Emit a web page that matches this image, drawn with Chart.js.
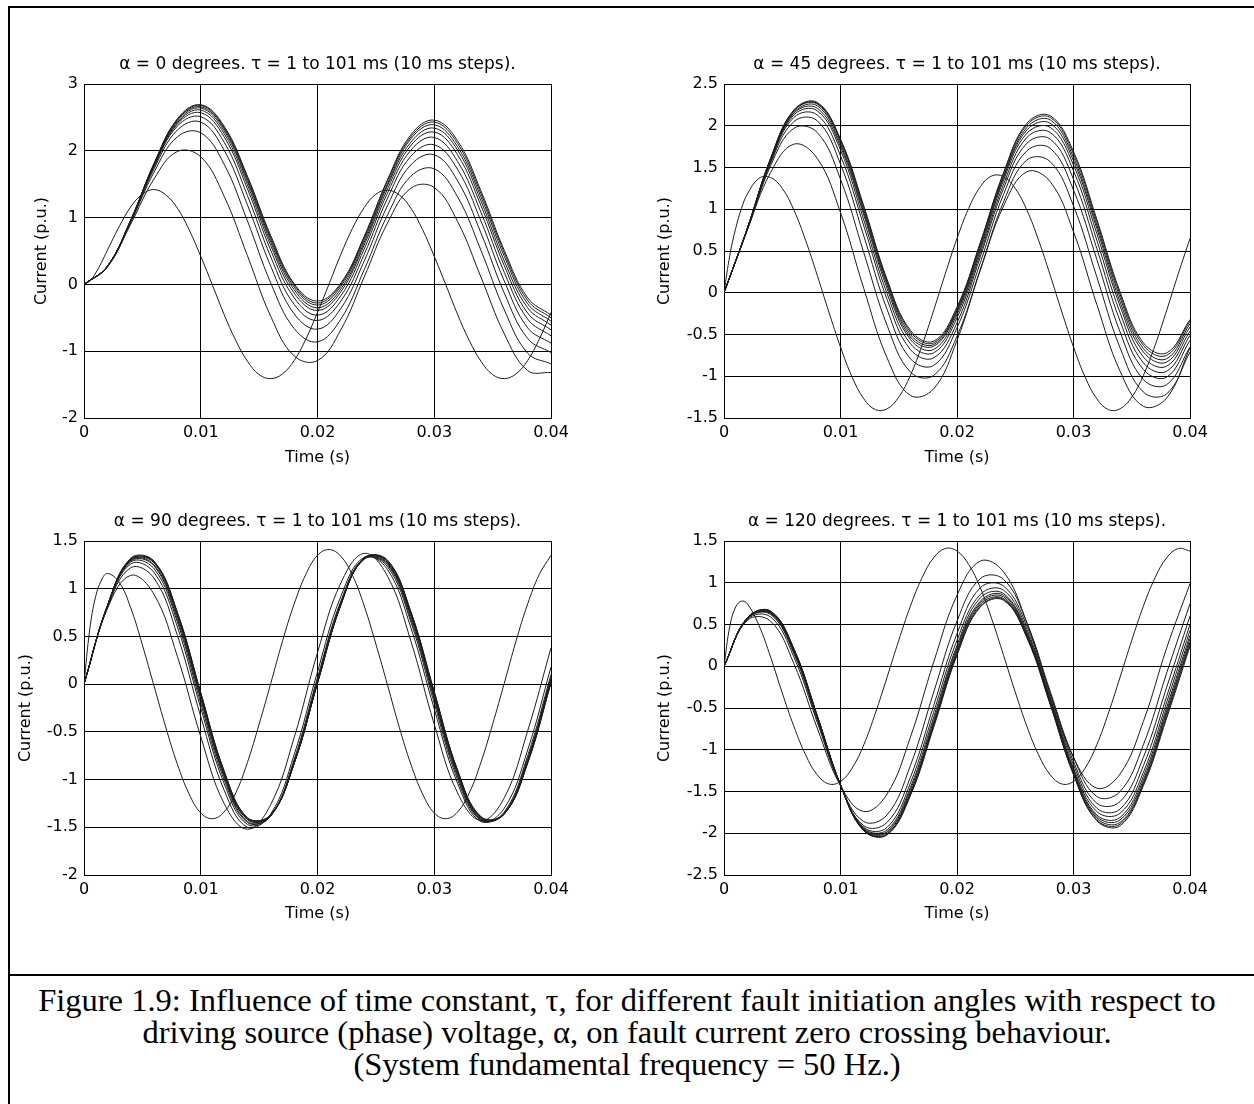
<!DOCTYPE html>
<html>
<head>
<meta charset="utf-8">
<title>Figure 1.9</title>
<script src="https://cdn.jsdelivr.net/npm/chart.js@4.4.1/dist/chart.umd.min.js"></script>
<style>
  html, body { margin: 0; padding: 0; background: #fff; overflow: hidden; }
  #page { position: relative; width: 1254px; height: 1104px; }
  .rule { position: absolute; background: #000; }
  canvas { position: absolute; }
  .caption {
    position: absolute; left: 0; top: 984px; width: 1254px;
    font-family: "Liberation Serif", "Times New Roman", serif;
    font-size: 32.5px; line-height: 32px; text-align: center; color: #000;
    white-space: nowrap;
  }
</style>
</head>
<body>
<div id="page">
  <div class="rule" style="left:8px;top:6px;width:1246px;height:2px"></div>
  <div class="rule" style="left:8px;top:6px;width:2px;height:1098px"></div>
  <div class="rule" style="left:8px;top:974px;width:1246px;height:2px"></div>

  <canvas id="p1" width="569" height="411" style="left:33px;top:56px"></canvas>
  <canvas id="p2" width="602" height="411" style="left:656px;top:56px"></canvas>
  <canvas id="p3" width="601" height="410" style="left:17px;top:513px"></canvas>
  <canvas id="p4" width="602" height="410" style="left:656px;top:513px"></canvas>

  <div class="caption">
    <div>Figure 1.9: Influence of time constant, τ, for different fault initiation angles with respect to</div>
    <div>driving source (phase) voltage, α, on fault current zero crossing behaviour.</div>
    <div>(System fundamental frequency = 50 Hz.)</div>
  </div>
</div>

<script>
// sample times (s): 2 ms steps for the slow curves, finer start for tau = 1 ms
const timeCoarse = [0, 0.002, 0.004, 0.006, 0.008, 0.01, 0.012, 0.014, 0.016, 0.018, 0.02,
  0.022, 0.024, 0.026, 0.028, 0.03, 0.032, 0.034, 0.036, 0.038, 0.04];
const timeTau1 = [0, 0.0005, 0.001, 0.0015, 0.002, 0.003, 0.004, 0.005, 0.006, 0.007, 0.008,
  0.009, 0.01, 0.011, 0.012, 0.013, 0.014, 0.015, 0.016, 0.017, 0.018, 0.019, 0.02, 0.021,
  0.022, 0.023, 0.024, 0.025, 0.026, 0.027, 0.028, 0.029, 0.03, 0.031, 0.032, 0.033, 0.034,
  0.035, 0.036, 0.037, 0.038, 0.039, 0.04];

const xTicks = [0, 0.01, 0.02, 0.03, 0.04];

// alpha = 0 degrees
const a0_t1 = [0, 0.05, 0.17, 0.33, 0.51, 0.86, 1.16, 1.35, 1.42, 1.34, 1.14, 0.82, 0.42, -0.01, -0.45, -0.84, -1.15, -1.35, -1.41, -1.34, -1.14, -0.82, -0.42, 0.01, 0.45, 0.84, 1.15, 1.35, 1.41, 1.34, 1.14, 0.82, 0.42, -0.01, -0.45, -0.84, -1.15, -1.35, -1.41, -1.34, -1.14, -0.82, -0.42];
const a0_t11 = [0, 0.26, 0.90, 1.58, 1.99, 1.91, 1.32, 0.43, -0.48, -1.07, -1.14, -0.68, 0.11, 0.92, 1.44, 1.45, 0.94, 0.11, -0.74, -1.29, -1.32];
const a0_t21 = [0, 0.26, 0.93, 1.68, 2.21, 2.27, 1.80, 0.95, 0.02, -0.66, -0.86, -0.52, 0.22, 1.04, 1.62, 1.73, 1.31, 0.51, -0.38, -1.03, -1.19];
const a0_t31 = [0, 0.27, 0.94, 1.73, 2.31, 2.43, 2.01, 1.19, 0.27, -0.44, -0.67, -0.36, 0.35, 1.18, 1.79, 1.94, 1.55, 0.77, -0.13, -0.81, -1.02];
const a0_t41 = [0, 0.27, 0.95, 1.76, 2.37, 2.51, 2.13, 1.33, 0.41, -0.30, -0.54, -0.25, 0.45, 1.29, 1.92, 2.09, 1.72, 0.95, 0.05, -0.65, -0.88];
const a0_t51 = [0, 0.27, 0.95, 1.77, 2.40, 2.57, 2.21, 1.43, 0.51, -0.20, -0.46, -0.17, 0.53, 1.37, 2.01, 2.20, 1.84, 1.08, 0.18, -0.52, -0.77];
const a0_t61 = [0, 0.27, 0.96, 1.79, 2.42, 2.61, 2.26, 1.49, 0.58, -0.13, -0.39, -0.11, 0.59, 1.43, 2.08, 2.28, 1.94, 1.18, 0.28, -0.43, -0.68];
const a0_t71 = [0, 0.27, 0.96, 1.80, 2.44, 2.64, 2.30, 1.54, 0.63, -0.08, -0.35, -0.07, 0.63, 1.48, 2.13, 2.34, 2.01, 1.25, 0.35, -0.35, -0.61];
const a0_t81 = [0, 0.27, 0.96, 1.80, 2.46, 2.66, 2.33, 1.57, 0.67, -0.04, -0.31, -0.03, 0.67, 1.51, 2.18, 2.39, 2.06, 1.31, 0.42, -0.29, -0.55];
const a0_t91 = [0, 0.27, 0.96, 1.81, 2.47, 2.68, 2.35, 1.60, 0.70, -0.01, -0.28, 0.00, 0.70, 1.55, 2.21, 2.43, 2.11, 1.36, 0.47, -0.24, -0.50];
const a0_t101 = [0, 0.27, 0.96, 1.81, 2.48, 2.69, 2.37, 1.62, 0.73, 0.01, -0.25, 0.02, 0.72, 1.57, 2.24, 2.46, 2.15, 1.40, 0.51, -0.20, -0.46];

// alpha = 45 degrees
const a45_t1 = [0, 0.45, 0.77, 1.01, 1.18, 1.37, 1.38, 1.25, 0.99, 0.63, 0.21, -0.23, -0.65, -1.01, -1.27, -1.40, -1.39, -1.25, -0.99, -0.63, -0.21, 0.23, 0.65, 1.01, 1.27, 1.40, 1.39, 1.25, 0.99, 0.63, 0.21, -0.23, -0.65, -1.01, -1.27, -1.40, -1.39, -1.25, -0.99, -0.63, -0.21, 0.23, 0.65];
const a45_t11 = [0, 0.75, 1.44, 1.78, 1.61, 0.96, 0.05, -0.78, -1.23, -1.15, -0.57, 0.27, 1.04, 1.45, 1.33, 0.73, -0.14, -0.94, -1.36, -1.26, -0.66];
const a45_t21 = [0, 0.75, 1.52, 1.97, 1.92, 1.36, 0.48, -0.39, -0.95, -0.99, -0.52, 0.28, 1.09, 1.59, 1.57, 1.04, 0.19, -0.66, -1.19, -1.21, -0.71];
const a45_t31 = [0, 0.76, 1.55, 2.05, 2.06, 1.54, 0.68, -0.20, -0.79, -0.87, -0.42, 0.36, 1.18, 1.70, 1.73, 1.23, 0.40, -0.47, -1.04, -1.10, -0.65];
const a45_t41 = [0, 0.76, 1.57, 2.10, 2.13, 1.64, 0.80, -0.08, -0.68, -0.78, -0.36, 0.43, 1.25, 1.79, 1.84, 1.36, 0.53, -0.34, -0.92, -1.01, -0.57];
const a45_t51 = [0, 0.77, 1.58, 2.13, 2.18, 1.71, 0.87, -0.01, -0.61, -0.72, -0.30, 0.47, 1.30, 1.86, 1.92, 1.46, 0.63, -0.24, -0.84, -0.94, -0.51];
const a45_t61 = [0, 0.77, 1.59, 2.15, 2.21, 1.75, 0.93, 0.05, -0.56, -0.68, -0.26, 0.51, 1.35, 1.91, 1.98, 1.53, 0.71, -0.16, -0.77, -0.88, -0.46];
const a45_t71 = [0, 0.77, 1.60, 2.16, 2.24, 1.78, 0.96, 0.09, -0.53, -0.64, -0.23, 0.54, 1.38, 1.95, 2.03, 1.58, 0.77, -0.11, -0.71, -0.83, -0.41];
const a45_t81 = [0, 0.77, 1.60, 2.18, 2.26, 1.81, 0.99, 0.12, -0.50, -0.62, -0.21, 0.57, 1.40, 1.98, 2.07, 1.62, 0.81, -0.06, -0.67, -0.79, -0.37];
const a45_t91 = [0, 0.77, 1.61, 2.18, 2.27, 1.83, 1.02, 0.14, -0.47, -0.60, -0.19, 0.59, 1.43, 2.01, 2.10, 1.66, 0.85, -0.02, -0.63, -0.75, -0.34];
const a45_t101 = [0, 0.77, 1.61, 2.19, 2.28, 1.84, 1.04, 0.16, -0.45, -0.58, -0.17, 0.60, 1.44, 2.03, 2.12, 1.69, 0.88, 0.01, -0.60, -0.72, -0.32];

// alpha = 90 degrees
const a90_t1 = [0, 0.58, 0.92, 1.09, 1.16, 1.07, 0.80, 0.41, -0.02, -0.45, -0.84, -1.15, -1.35, -1.41, -1.34, -1.14, -0.82, -0.42, 0.01, 0.45, 0.84, 1.15, 1.35, 1.41, 1.34, 1.14, 0.82, 0.42, -0.01, -0.45, -0.84, -1.15, -1.35, -1.41, -1.34, -1.14, -0.82, -0.42, 0.01, 0.45, 0.84, 1.15, 1.35];
const a90_t11 = [0, 0.79, 1.14, 0.94, 0.29, -0.55, -1.25, -1.52, -1.26, -0.56, 0.33, 1.06, 1.37, 1.13, 0.45, -0.42, -1.14, -1.43, -1.19, -0.49, 0.38];
const a90_t21 = [0, 0.80, 1.22, 1.11, 0.51, -0.34, -1.11, -1.50, -1.36, -0.74, 0.13, 0.92, 1.33, 1.20, 0.59, -0.26, -1.04, -1.44, -1.30, -0.69, 0.18];
const a90_t31 = [0, 0.81, 1.26, 1.17, 0.60, -0.25, -1.04, -1.47, -1.38, -0.79, 0.07, 0.87, 1.32, 1.23, 0.65, -0.20, -1.00, -1.43, -1.34, -0.75, 0.10];
const a90_t41 = [0, 0.81, 1.28, 1.21, 0.65, -0.20, -1.00, -1.45, -1.38, -0.81, 0.04, 0.85, 1.31, 1.25, 0.68, -0.16, -0.97, -1.42, -1.35, -0.78, 0.07];
const a90_t51 = [0, 0.82, 1.29, 1.24, 0.68, -0.16, -0.97, -1.44, -1.38, -0.82, 0.03, 0.84, 1.31, 1.26, 0.71, -0.14, -0.95, -1.42, -1.36, -0.80, 0.05];
const a90_t61 = [0, 0.82, 1.30, 1.25, 0.71, -0.14, -0.95, -1.42, -1.38, -0.83, 0.02, 0.84, 1.32, 1.27, 0.72, -0.12, -0.93, -1.41, -1.36, -0.81, 0.04];
const a90_t71 = [0, 0.82, 1.30, 1.27, 0.72, -0.12, -0.94, -1.42, -1.37, -0.83, 0.02, 0.84, 1.32, 1.28, 0.74, -0.11, -0.92, -1.40, -1.36, -0.82, 0.03];
const a90_t81 = [0, 0.82, 1.31, 1.28, 0.74, -0.10, -0.92, -1.41, -1.37, -0.83, 0.01, 0.83, 1.32, 1.29, 0.75, -0.09, -0.91, -1.40, -1.36, -0.82, 0.02];
const a90_t91 = [0, 0.82, 1.31, 1.28, 0.75, -0.09, -0.91, -1.40, -1.37, -0.83, 0.01, 0.83, 1.32, 1.29, 0.75, -0.08, -0.91, -1.39, -1.36, -0.82, 0.02];
const a90_t101 = [0, 0.82, 1.32, 1.29, 0.75, -0.09, -0.91, -1.40, -1.37, -0.83, 0.01, 0.83, 1.32, 1.30, 0.76, -0.08, -0.90, -1.39, -1.36, -0.83, 0.01];

// alpha = 120 degrees
const a120_t1 = [0, 0.48, 0.71, 0.78, 0.75, 0.49, 0.11, -0.32, -0.72, -1.06, -1.30, -1.41, -1.38, -1.22, -0.94, -0.56, -0.13, 0.31, 0.72, 1.06, 1.30, 1.41, 1.38, 1.22, 0.94, 0.56, 0.13, -0.31, -0.72, -1.06, -1.30, -1.41, -1.38, -1.22, -0.94, -0.56, -0.13, 0.31, 0.72, 1.06, 1.30, 1.41, 1.38];
const a120_t11 = [0, 0.55, 0.54, 0.03, -0.74, -1.43, -1.74, -1.53, -0.85, 0.05, 0.85, 1.26, 1.13, 0.52, -0.33, -1.09, -1.46, -1.29, -0.66, 0.22, 0.99];
const a120_t21 = [0, 0.56, 0.59, 0.11, -0.67, -1.43, -1.86, -1.78, -1.19, -0.31, 0.54, 1.05, 1.04, 0.52, -0.30, -1.09, -1.56, -1.50, -0.94, -0.08, 0.75];
const a120_t31 = [0, 0.57, 0.62, 0.15, -0.64, -1.43, -1.91, -1.87, -1.33, -0.47, 0.39, 0.94, 0.96, 0.48, -0.33, -1.14, -1.64, -1.62, -1.09, -0.25, 0.60];
const a120_t41 = [0, 0.57, 0.63, 0.17, -0.62, -1.43, -1.93, -1.93, -1.40, -0.55, 0.31, 0.86, 0.91, 0.44, -0.37, -1.18, -1.70, -1.71, -1.19, -0.36, 0.50];
const a120_t51 = [0, 0.57, 0.64, 0.18, -0.61, -1.42, -1.94, -1.96, -1.45, -0.61, 0.25, 0.82, 0.87, 0.41, -0.39, -1.22, -1.74, -1.76, -1.27, -0.43, 0.43];
const a120_t61 = [0, 0.58, 0.64, 0.19, -0.60, -1.42, -1.95, -1.98, -1.48, -0.65, 0.22, 0.78, 0.85, 0.39, -0.41, -1.24, -1.78, -1.81, -1.32, -0.49, 0.37];
const a120_t71 = [0, 0.58, 0.65, 0.20, -0.60, -1.42, -1.96, -1.99, -1.51, -0.68, 0.19, 0.76, 0.83, 0.37, -0.43, -1.26, -1.80, -1.84, -1.36, -0.53, 0.33];
const a120_t81 = [0, 0.58, 0.65, 0.20, -0.59, -1.42, -1.96, -2.01, -1.52, -0.70, 0.17, 0.74, 0.81, 0.36, -0.44, -1.28, -1.82, -1.87, -1.39, -0.56, 0.29];
const a120_t91 = [0, 0.58, 0.66, 0.21, -0.59, -1.42, -1.97, -2.01, -1.54, -0.71, 0.15, 0.72, 0.80, 0.35, -0.45, -1.29, -1.84, -1.89, -1.41, -0.59, 0.27];
const a120_t101 = [0, 0.58, 0.66, 0.21, -0.59, -1.42, -1.97, -2.02, -1.55, -0.73, 0.13, 0.71, 0.79, 0.34, -0.46, -1.30, -1.85, -1.91, -1.43, -0.62, 0.24];

const FONT = '"DejaVu Sans", "Liberation Sans", sans-serif';

const panels = [
  { canvas: 'p1', title: 'α = 0 degrees. τ = 1 to 101 ms (10 ms steps).',
    yMin: -2, yMax: 3, yStep: 1,
    slow: [a0_t11, a0_t21, a0_t31, a0_t41, a0_t51, a0_t61, a0_t71, a0_t81, a0_t91, a0_t101], fast: a0_t1,
    yAxisW: 51, xAxisH: 49, padRight: 51, titleGap: 10 },
  { canvas: 'p2', title: 'α = 45 degrees. τ = 1 to 101 ms (10 ms steps).',
    yMin: -1.5, yMax: 2.5, yStep: 0.5,
    slow: [a45_t11, a45_t21, a45_t31, a45_t41, a45_t51, a45_t61, a45_t71, a45_t81, a45_t91, a45_t101], fast: a45_t1,
    yAxisW: 68, xAxisH: 49, padRight: 68, titleGap: 10 },
  { canvas: 'p3', title: 'α = 90 degrees. τ = 1 to 101 ms (10 ms steps).',
    yMin: -2, yMax: 1.5, yStep: 0.5,
    slow: [a90_t11, a90_t21, a90_t31, a90_t41, a90_t51, a90_t61, a90_t71, a90_t81, a90_t91, a90_t101], fast: a90_t1,
    yAxisW: 67, xAxisH: 48, padRight: 67, titleGap: 10 },
  { canvas: 'p4', title: 'α = 120 degrees. τ = 1 to 101 ms (10 ms steps).',
    yMin: -2.5, yMax: 1.5, yStep: 0.5,
    slow: [a120_t11, a120_t21, a120_t31, a120_t41, a120_t51, a120_t61, a120_t71, a120_t81, a120_t91, a120_t101], fast: a120_t1,
    yAxisW: 68, xAxisH: 48, padRight: 68, titleGap: 10 },
];

function toPoints(times, values) {
  return values.map((v, i) => ({ x: times[i], y: v }));
}

function lineSet(times, values) {
  return {
    data: toPoints(times, values),
    borderColor: '#1c1c1c',
    borderWidth: 1,
    pointRadius: 0,
    tension: 0.4,
    fill: false,
  };
}

// matlab style: 2 not 2.0
const plainNumber = (v) => String(Number(Number(v).toFixed(3)));

panels.forEach((p) => {
  const ctx = document.getElementById(p.canvas).getContext('2d');
  const datasets = [lineSet(timeTau1, p.fast)].concat(p.slow.map((s) => lineSet(timeCoarse, s)));

  new Chart(ctx, {
    type: 'line',
    data: { datasets },
    options: {
      responsive: false,
      animation: false,
      devicePixelRatio: 1,
      events: [],
      layout: { padding: { left: 0, right: p.padRight, top: 0, bottom: 0 } },
      plugins: {
        legend: { display: false },
        tooltip: { enabled: false },
        title: {
          display: true,
          fullSize: false,
          text: p.title,
          color: '#000',
          font: { family: FONT, size: 17, weight: 'normal', lineHeight: '18px' },
          padding: { top: 0, bottom: p.titleGap },
        },
      },
      scales: {
        x: {
          type: 'linear',
          min: 0,
          max: 0.04,
          afterBuildTicks: (axis) => { axis.ticks = xTicks.map((v) => ({ value: v })); },
          ticks: { color: '#000', font: { family: FONT, size: 16 }, padding: 5, maxRotation: 0,
            autoSkip: false, callback: plainNumber },
          grid: { color: '#000', lineWidth: 1, drawTicks: false },
          border: { color: '#000', width: 1 },
          title: { display: true, text: 'Time (s)', color: '#000', padding: 0,
            font: { family: FONT, size: 16, lineHeight: '18px' } },
          afterFit: (axis) => { axis.height = p.xAxisH; },
        },
        y: {
          type: 'linear',
          min: p.yMin,
          max: p.yMax,
          ticks: { stepSize: p.yStep, color: '#000', font: { family: FONT, size: 16 }, padding: 6,
            callback: plainNumber },
          grid: { color: '#000', lineWidth: 1, drawTicks: false },
          border: { color: '#000', width: 1 },
          title: { display: true, text: 'Current (p.u.)', color: '#000', padding: 0,
            font: { family: FONT, size: 16, lineHeight: '18px' } },
          afterFit: (axis) => { axis.width = p.yAxisW; },
        },
      },
    },
  });
});
</script>
</body>
</html>
